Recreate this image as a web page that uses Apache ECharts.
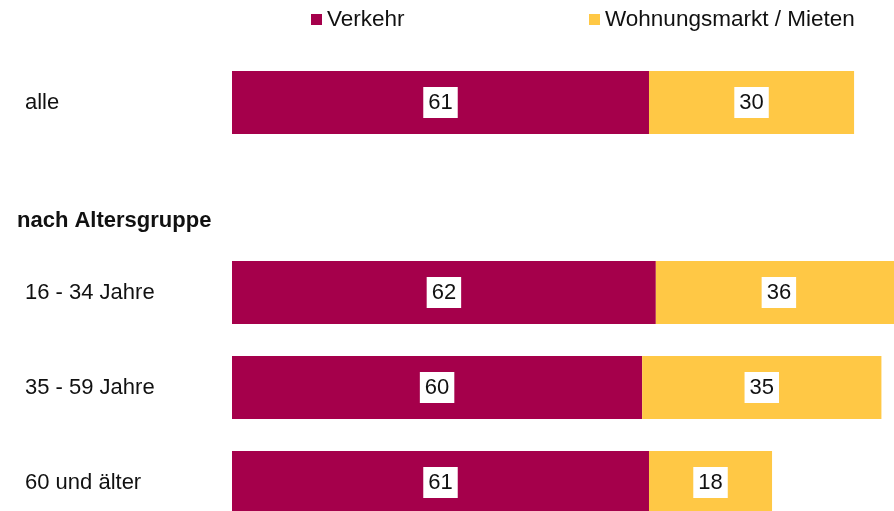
<!DOCTYPE html>
<html>
<head>
<meta charset="utf-8">
<script src="https://cdn.jsdelivr.net/npm/echarts@6/dist/echarts.min.js"></script>
<style>
html,body{margin:0;padding:0;background:#fff;}
#c{width:894px;height:511px;}
</style>
</head>
<body>
<div id="c"></div>
<script>
var categories = ['alle', '', '16 - 34 Jahre', '35 - 59 Jahre', '60 und älter'];
var seriesNames = ['Verkehr', 'Wohnungsmarkt / Mieten'];
var verkehr = [61, null, 62, 60, 61];
var wohnen = [30, null, 36, 35, 18];
var headerText = 'nach Altersgruppe';

var FONT = '"Liberation Sans", Arial, sans-serif';
var chart = echarts.init(document.getElementById('c'), null, {renderer: 'canvas'});

function labelCfg() {
  return {
    show: true,
    position: 'inside',
    color: '#111',
    fontSize: 22,
    fontFamily: FONT,
    backgroundColor: '#fff',
    padding: [5, 5, 4, 5],
    formatter: function (p) { return p.value == null ? '' : p.value; }
  };
}

chart.setOption({
  backgroundColor: '#fff',
  animation: false,
  textStyle: {fontFamily: FONT},
  legend: [
    {
      data: [seriesNames[0]], left: 311, top: 8, padding: 0,
      itemWidth: 11, itemHeight: 11, icon: 'rect',
      textStyle: {fontSize: 22.5, color: '#111', fontFamily: FONT}
    },
    {
      data: [seriesNames[1]], left: 589, top: 8, padding: 0,
      itemWidth: 11, itemHeight: 11, icon: 'rect',
      textStyle: {fontSize: 22.5, color: '#111', fontFamily: FONT}
    }
  ],
  grid: {left: 232, top: 55, width: 683.6, height: 475, containLabel: false, outerBoundsMode: 'none'},
  xAxis: {
    type: 'value', min: 0, max: 100, show: false
  },
  yAxis: {
    type: 'category', data: categories, inverse: true,
    axisLine: {show: false}, axisTick: {show: false},
    axisLabel: {
      align: 'left', margin: 207, fontSize: 22, color: '#111', fontFamily: FONT
    }
  },
  graphic: [{
    type: 'text', left: 17, top: 210,
    style: {text: headerText, fontSize: 22, fontWeight: 'bold', fill: '#111', font: 'bold 22px ' + FONT}
  }],
  series: [
    {
      name: seriesNames[0], type: 'bar', stack: 'a', data: verkehr,
      barWidth: 63, itemStyle: {color: '#A5004B'}, label: labelCfg()
    },
    {
      name: seriesNames[1], type: 'bar', stack: 'a', data: wohnen,
      barWidth: 63, itemStyle: {color: '#FFC845'}, label: labelCfg()
    }
  ]
});
</script>
</body>
</html>
